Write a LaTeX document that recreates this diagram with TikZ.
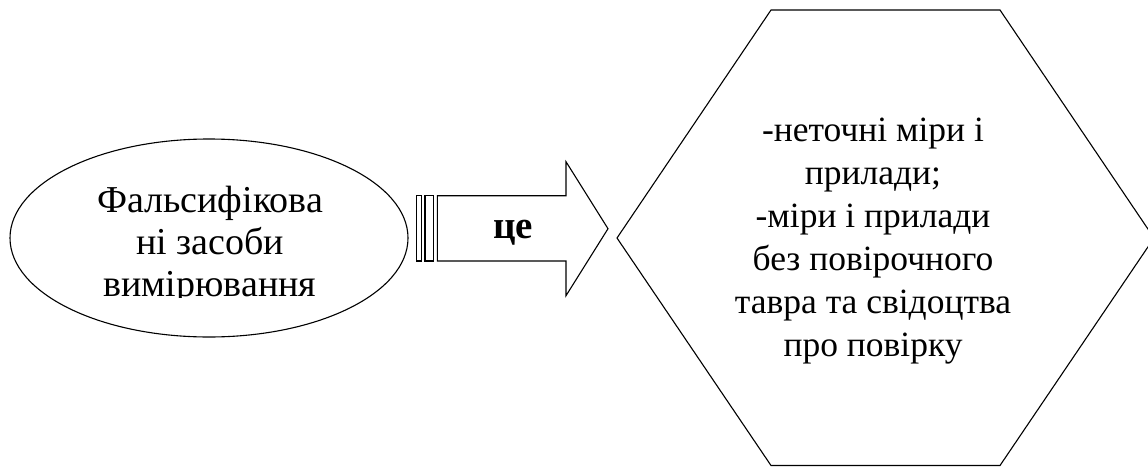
\documentclass[tikz,border=0pt]{standalone}
\usepackage{fontspec}
\setmainfont{Liberation Serif}
\begin{document}
\begin{tikzpicture}[x=1pt,y=-1pt,
  outline/.style={draw=black,line width=1.1pt,line join=miter},
  bodytext/.style={align=center,inner sep=0pt}]
\useasboundingbox (0,0) rectangle (1148,466);
\clip (0,0) rectangle (1148,466);

% ellipse with its caption, the last line cut by the text frame
\draw[outline] (209,238) ellipse [x radius=199, y radius=99];
\begin{scope}
  \clip (20,150) rectangle (400,297);
  \node[bodytext,font=\fontsize{38}{42}\selectfont] (src) at (210,245)
    {Фальсифікова\\ні засоби\\вимірювання};
\end{scope}

% striped block arrow
\draw[outline] (416.7,195.7) rectangle (421.7,261);
\draw[outline] (425,195.7) rectangle (433.3,261);
\draw[outline] (437.3,195.7) -- (566,195.7) -- (566,161.7) -- (608,228.7)
  -- (566,295.7) -- (566,261) -- (437.3,261) -- cycle;
\node[font=\fontsize{39}{40}\selectfont\bfseries,inner sep=0pt] (lbl) at (513,233) {це};

% hexagon with its list
\draw[outline] (771,10) -- (1000,10) -- (1154,238) -- (1000,465.5)
  -- (771,465.5) -- (617,238) -- cycle;
\node[bodytext,font=\fontsize{35.5}{43}\selectfont] (dst) at (873,241)
  {-неточні міри і\\прилади;\\-міри і прилади\\без повірочного\\тавра та свідоцтва\\про повірку};
\end{tikzpicture}
\end{document}
